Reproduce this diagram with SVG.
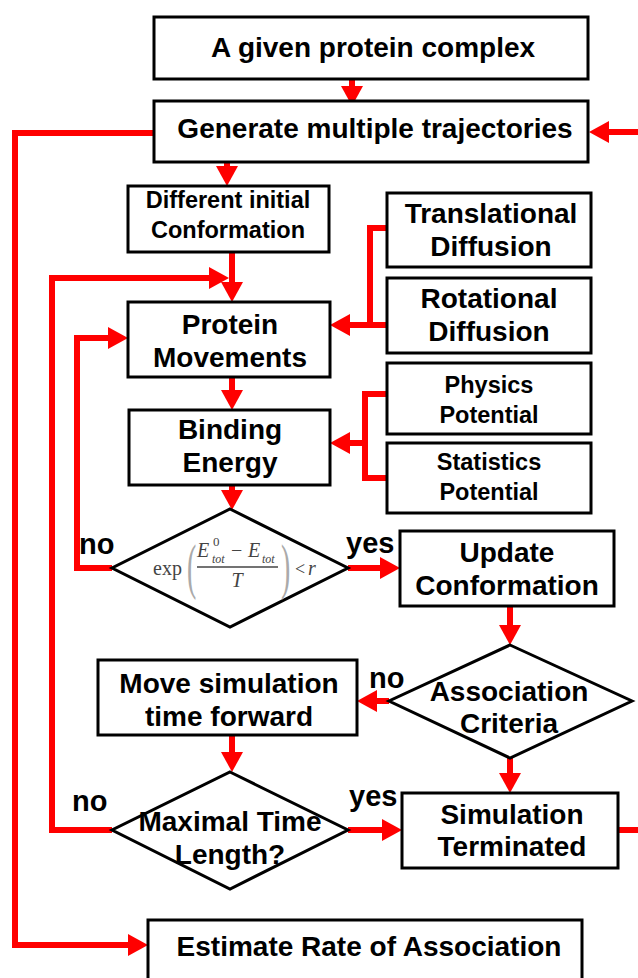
<svg xmlns="http://www.w3.org/2000/svg" width="638" height="978" viewBox="0 0 638 978">
<defs>
<style>
.box{fill:#fff;stroke:#000;stroke-width:3}
.t{font-family:"Liberation Sans",Arial,sans-serif;font-weight:bold;font-size:28px;fill:#000;text-anchor:middle}
.s{font-size:23.5px}
.lbl{font-family:"Liberation Sans",Arial,sans-serif;font-weight:bold;font-size:29px;fill:#000}
.c{fill:none;stroke:#ff0000;stroke-width:6;stroke-linejoin:miter}
.m{font-family:"Liberation Serif","Times New Roman",serif;fill:#444}
.p{font-family:"Liberation Serif","Times New Roman",serif;fill:#aaa;font-size:62px}
</style>
<marker id="ah" markerUnits="userSpaceOnUse" markerWidth="20" markerHeight="22" refX="0" refY="11" orient="auto" overflow="visible">
<path d="M0,0 L20,11 L0,22 z" fill="#ff0000"/>
</marker>
</defs>
<rect width="638" height="978" fill="#fff"/>

<g id="connectors">
<path class="c" d="M352,79 V86" marker-end="url(#ah)"/>
<path class="c" d="M227,162 V166" marker-end="url(#ah)"/>
<path class="c" d="M232,252 V282" marker-end="url(#ah)"/>
<path class="c" d="M112,830 H52 V278 H209" marker-end="url(#ah)"/>
<path class="c" d="M112,568 H77 V338 H108" marker-end="url(#ah)"/>
<path class="c" d="M232,377 V390" marker-end="url(#ah)"/>
<path class="c" d="M232,485 V490" marker-end="url(#ah)"/>
<path class="c" d="M348,568 H380" marker-end="url(#ah)"/>
<path class="c" d="M510,606 V625" marker-end="url(#ah)"/>
<path class="c" d="M389,701 H377" marker-end="url(#ah)"/>
<path class="c" d="M232,735 V752" marker-end="url(#ah)"/>
<path class="c" d="M510,758 V773" marker-end="url(#ah)"/>
<path class="c" d="M348,830 H382" marker-end="url(#ah)"/>
<path class="c" d="M618,830 H645 V132 H609" marker-end="url(#ah)"/>
<path class="c" d="M154,133 H15 V945 H128" marker-end="url(#ah)"/>
<path class="c" d="M387,228 H370 V325"/>
<path class="c" d="M387,325 H350" marker-end="url(#ah)"/>
<path class="c" d="M387,394 H365 V478 H387"/>
<path class="c" d="M365,443 H350" marker-end="url(#ah)"/>
</g>

<g id="n-complex">
<rect class="box" x="154" y="17" width="434" height="62"/>
<text class="t" x="373" y="57">A given protein complex</text>
</g>
<g id="n-generate">
<rect class="box" x="154" y="101" width="434" height="61"/>
<text class="t" x="375" y="138">Generate multiple trajectories</text>
</g>
<g id="n-initial">
<rect class="box" x="128" y="186" width="201" height="66"/>
<text class="t s" x="228" y="208">Different initial</text>
<text class="t s" x="228" y="238">Conformation</text>
</g>
<g id="n-movements">
<rect class="box" x="128" y="302" width="202" height="75"/>
<text class="t" x="230" y="334">Protein</text>
<text class="t" x="230" y="367">Movements</text>
</g>
<g id="n-energy">
<rect class="box" x="129" y="410" width="201" height="75"/>
<text class="t" x="230" y="439">Binding</text>
<text class="t" x="230" y="472">Energy</text>
</g>
<g id="n-translational">
<rect class="box" x="387" y="193" width="204" height="74"/>
<text class="t" x="491" y="223">Translational</text>
<text class="t" x="491" y="256">Diffusion</text>
</g>
<g id="n-rotational">
<rect class="box" x="387" y="278" width="204" height="75"/>
<text class="t" x="489" y="308">Rotational</text>
<text class="t" x="489" y="341">Diffusion</text>
</g>
<g id="n-physics">
<rect class="box" x="387" y="363" width="204" height="71"/>
<text class="t s" x="489" y="393">Physics</text>
<text class="t s" x="489" y="423">Potential</text>
</g>
<g id="n-statistics">
<rect class="box" x="387" y="443" width="204" height="70"/>
<text class="t s" x="489" y="470">Statistics</text>
<text class="t s" x="489" y="500">Potential</text>
</g>
<g id="n-metropolis">
<polygon class="box" points="230,509 348,568 230,627 112,568"/>
<text class="m" x="153" y="575" font-size="20">exp</text>
<text class="p" transform="translate(187,587) scale(0.45,1)">(</text>
<text class="m" x="197" y="557" font-size="20" font-style="italic">E</text>
<text class="m" x="213" y="546" font-size="13">0</text>
<text class="m" x="212" y="563" font-size="12" font-style="italic">tot</text>
<text class="m" x="231" y="557" font-size="20">−</text>
<text class="m" x="248" y="557" font-size="20" font-style="italic">E</text>
<text class="m" x="262" y="563" font-size="12" font-style="italic">tot</text>
<line x1="197" y1="567" x2="278" y2="567" stroke="#444" stroke-width="1.3"/>
<text class="m" x="237" y="587" font-size="20" font-style="italic" text-anchor="middle">T</text>
<text class="p" transform="translate(281,587) scale(0.45,1)">)</text>
<text class="m" x="295" y="575" font-size="18">&lt;</text>
<text class="m" x="308" y="575" font-size="20" font-style="italic">r</text>
</g>
<g id="n-update">
<rect class="box" x="400" y="531" width="214" height="75"/>
<text class="t" x="507" y="562">Update</text>
<text class="t" x="507" y="595">Conformation</text>
</g>
<g id="n-association">
<polygon class="box" points="510,645 632,701 510,758 389,701"/>
<text class="t" x="509" y="701">Association</text>
<text class="t" x="509" y="733">Criteria</text>
</g>
<g id="n-move">
<rect class="box" x="98" y="660" width="259" height="75"/>
<text class="t" x="229" y="693">Move simulation</text>
<text class="t" x="229" y="726">time forward</text>
</g>
<g id="n-maximal">
<polygon class="box" points="230,772 348,830 230,889 112,830"/>
<text class="t" x="230" y="831">Maximal Time</text>
<text class="t" x="230" y="864">Length?</text>
</g>
<g id="n-terminated">
<rect class="box" x="402" y="793" width="216" height="75"/>
<text class="t" x="512" y="824">Simulation</text>
<text class="t" x="512" y="856">Terminated</text>
</g>
<g id="n-estimate">
<rect class="box" x="148" y="920" width="434" height="70"/>
<text class="t" x="369" y="956">Estimate Rate of Association</text>
</g>

<g id="labels">
<text class="lbl" x="79" y="554">no</text>
<text class="lbl" x="346" y="553">yes</text>
<text class="lbl" x="369" y="688">no</text>
<text class="lbl" x="72" y="811">no</text>
<text class="lbl" x="349" y="806">yes</text>
</g>
</svg>
